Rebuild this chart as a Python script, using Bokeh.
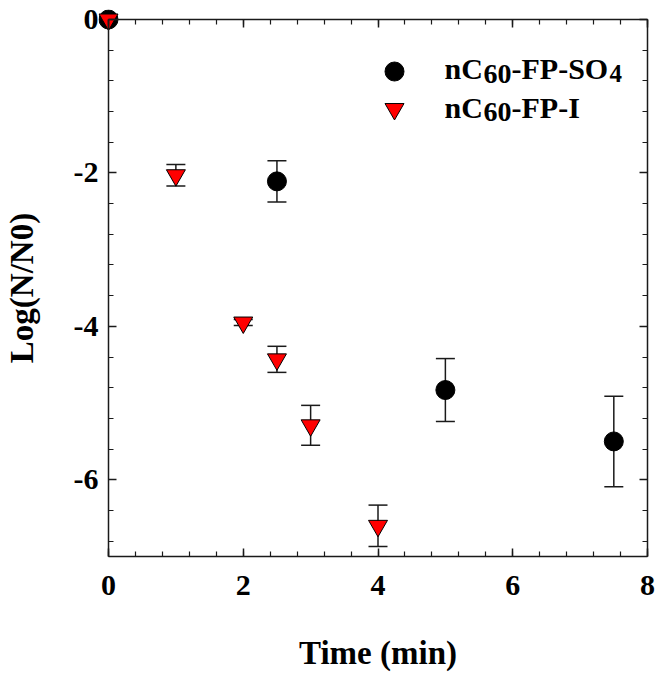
from bokeh.plotting import figure
from bokeh.models import (Range1d, LinearAxis, Whisker, ColumnDataSource, Label,
                          SingleIntervalTicker, TeeHead, CustomJSTickFormatter)
from bokeh.embed import file_html
from bokeh.resources import INLINE

# ---- data ----
so4_time = [0, 2.5, 5, 7.5]
so4_log = [0, -2.11, -4.83, -5.50]
so4_err = [0, 0.27, 0.41, 0.59]

fpi_time = [0, 1, 2, 2.5, 3, 4]
fpi_log = [0, -2.03, -3.95, -4.43, -5.29, -6.60]
fpi_err = [0, 0.14, 0.04, 0.17, 0.26, 0.27]

x_lim = (0, 8)
y_lim = (-7, 0)
tick_step = 2

FONT = "Liberation Serif"
PX_X = 67.375
PX_Y = 76.714
PAD = 10

xr = Range1d(x_lim[0] - PAD / PX_X, x_lim[1] + PAD / PX_X)
yr = Range1d(y_lim[0] - PAD / PX_Y, y_lim[1] + PAD / PX_Y)

p = figure(frame_width=559, frame_height=557, x_range=xr, y_range=yr,
           output_backend="svg", toolbar_location=None,
           x_axis_type=None, y_axis_type=None,
           min_border_left=98, min_border_right=9, min_border_top=9, min_border_bottom=114)
p.outline_line_color = None
p.background_fill_color = "white"
p.border_fill_color = "white"

LINE = "#1a1a1a"


def ticker():
    return SingleIntervalTicker(interval=tick_step, num_minor_ticks=5)


def label_axis(ax, title):
    ax.axis_line_color = None
    ax.major_tick_line_color = None
    ax.minor_tick_line_color = None
    ax.major_tick_in = ax.major_tick_out = 0
    ax.minor_tick_in = ax.minor_tick_out = 0
    ax.formatter = CustomJSTickFormatter(code="return String(Math.round(tick));")
    ax.major_label_text_font = FONT
    ax.major_label_text_font_style = "bold"
    ax.major_label_text_font_size = "30px"
    ax.major_label_text_color = "black"
    ax.axis_label = title
    ax.axis_label_text_font = FONT
    ax.axis_label_text_font_style = "bold"
    ax.axis_label_text_font_size = "33px"
    ax.axis_label_text_color = "black"


def box_axis(ax, tin, tout, mtin, mtout):
    ax.axis_line_color = LINE
    ax.axis_line_width = 1.5
    ax.major_tick_line_color = LINE
    ax.major_tick_line_width = 1.5
    ax.minor_tick_line_color = LINE
    ax.minor_tick_line_width = 1.2
    ax.major_tick_in, ax.major_tick_out = tin, tout
    ax.minor_tick_in, ax.minor_tick_out = mtin, mtout
    ax.major_label_text_font_size = "0px"
    ax.major_label_text_alpha = 0
    ax.major_label_standoff = 0


# box axes drawn at the data limits (ticks pointing into the box)
yb = LinearAxis(fixed_location=x_lim[0], bounds=y_lim, ticker=ticker())
box_axis(yb, 8, 0, 5, 0)
p.add_layout(yb, "left")
xt = LinearAxis(fixed_location=y_lim[1], bounds=x_lim, ticker=ticker())
box_axis(xt, 8, 0, 5, 0)
p.add_layout(xt, "above")
yt = LinearAxis(fixed_location=x_lim[1], bounds=y_lim, ticker=ticker())
box_axis(yt, 8, 0, 5, 0)
p.add_layout(yt, "right")

# label-carrying axes (outside the box axes)
xl = LinearAxis(ticker=ticker())
label_axis(xl, "Time (min)")
xl.major_label_standoff = 9
xl.axis_label_standoff = 37
p.add_layout(xl, "below")

yl = LinearAxis(ticker=ticker())
label_axis(yl, "Log(N/N0)")
yl.major_label_standoff = 0
yl.axis_label_standoff = 31
p.add_layout(yl, "left")

xb = LinearAxis(fixed_location=y_lim[0], bounds=x_lim, ticker=ticker())
box_axis(xb, 8, 0, 5, 0)
p.add_layout(xb, "below")


def whisk(t, v, e):
    sel = [i for i in range(len(t)) if e[i] > 0]
    src = ColumnDataSource(dict(base=[t[i] for i in sel],
                                upper=[v[i] + e[i] for i in sel],
                                lower=[v[i] - e[i] for i in sel]))
    w = Whisker(base="base", upper="upper", lower="lower", source=src, dimension="height",
                line_color=LINE, line_width=1.5,
                upper_head=TeeHead(size=19, line_width=1.5, line_color=LINE),
                lower_head=TeeHead(size=19, line_width=1.5, line_color=LINE))
    p.add_layout(w)


whisk(so4_time, so4_log, so4_err)
whisk(fpi_time, fpi_log, fpi_err)

p.scatter(so4_time, so4_log, marker="circle", size=19, fill_color="black", line_color="black")
p.scatter(fpi_time, fpi_log, marker="inverted_triangle", size=19, fill_color="#ff0000",
          line_color="black", line_width=1)

# legend (manual, to allow lowered "60" and subscript "4")
leg_x = 4.245
p.scatter([leg_x], [-0.678], marker="circle", size=19, fill_color="black", line_color="black")
p.scatter([leg_x], [-1.167], marker="inverted_triangle", size=19, fill_color="#ff0000",
          line_color="black", line_width=1)

txt_x = 4.987


def piece(text, dx, y, size, dy=0):
    p.add_layout(Label(x=txt_x, y=y, x_offset=dx, y_offset=-dy, text=text,
                       text_font=FONT, text_font_style="bold", text_font_size=f"{size}px",
                       text_color="black", text_baseline="alphabetic", text_align="left"))


y1, y2 = -0.639, -1.147
piece("nC", 0, y1, 30)
piece("60", 39, y1, 28, 5)
piece("-FP-SO", 67, y1, 30)
piece("4", 165, y1, 25, 5)
piece("nC", 0, y2, 30)
piece("60", 39, y2, 28, 5)
piece("-FP-I", 67, y2, 30)

open("out.html", "w").write(file_html(p, INLINE))
